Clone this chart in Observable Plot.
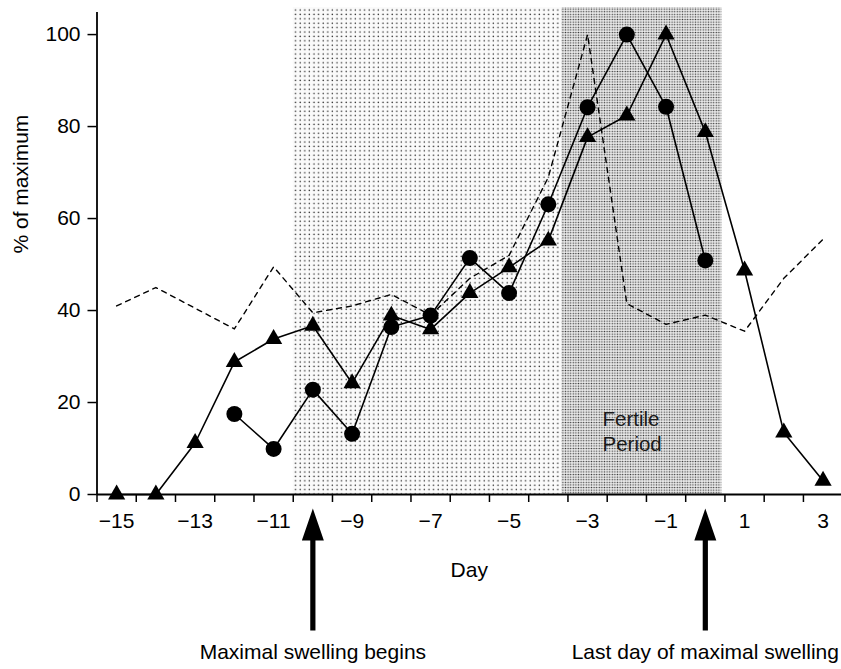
<!DOCTYPE html>
<html>
<head>
<meta charset="utf-8">
<script src="https://cdn.jsdelivr.net/npm/d3@7"></script>
<script src="https://cdn.jsdelivr.net/npm/@observablehq/plot@0.6"></script>
<style>
  html, body { margin: 0; padding: 0; background: #fff; }
  #chart svg { display: block; }
</style>
</head>
<body>
<div id="chart"></div>
<script>
// ---- data ----
const days = [-15, -14, -13, -12, -11, -10, -9, -8, -7, -6, -5, -4, -3, -2, -1, 0, 1, 2, 3];
const triangleValues = [0, 0, 11.2, 28.8, 33.8, 36.7, 24.2, 38.9, 35.9, 43.8, 49.4, 55.2, 77.7, 82.4, 100, 78.8, 48.7, 13.5, 3.0];
const circleDays = [-12, -11, -10, -9, -8, -7, -6, -5, -4, -3, -2, -1, 0];
const circleValues = [17.5, 9.9, 22.8, 13.2, 36.4, 38.9, 51.4, 43.8, 63.1, 84.2, 100, 84.3, 50.9];
const dashedValues = [41, 45, 40.5, 36, 49.5, 39.5, 41, 43.5, 39, 47, 52, 69, 100, 41.5, 37, 39, 35.5, 47, 55.5];

const shadeStart = [-10.5, -3.65];
const shadeEnd = [-3.65, 0.42];
const shadeKind = ["light", "dense"];

const xTickLabels = [-15, -13, -11, -9, -7, -5, -3, -1, 1, 3];
const xTickMarks = d3.range(-15.5, 3, 1);
const yTicks = [0, 20, 40, 60, 80, 100];

const arrowDays = [-10, 0];
const arrowLabels = ["Maximal swelling begins", "Last day of maximal swelling"];

const fertileLabel = {x: -2.62, y: 14, text: "Fertile\nPeriod"};

// ---- tables ----
const triangles = days.map((d, i) => ({day: d, value: triangleValues[i]}));
const circles = circleDays.map((d, i) => ({day: d, value: circleValues[i]}));
const dashed = days.map((d, i) => ({day: d, value: dashedValues[i]}));
const shades = shadeStart.map((s, i) => ({start: s, end: shadeEnd[i], kind: shadeKind[i]}));
const arrows = arrowDays.map((d, i) => ({day: d, label: arrowLabels[i]}));

// custom arrow symbol: tip below the x axis, pointing up
const arrowSymbol = {
  draw(ctx) {
    ctx.moveTo(0, 14);
    ctx.lineTo(11, 46);
    ctx.lineTo(2.6, 46);
    ctx.lineTo(2.6, 136);
    ctx.lineTo(-2.6, 136);
    ctx.lineTo(-2.6, 46);
    ctx.lineTo(-11, 46);
    ctx.closePath();
  }
};

const font = "'Liberation Sans', Arial, Helvetica, sans-serif";

const chart = Plot.plot({
  width: 841,
  height: 669,
  marginLeft: 96.5,
  marginRight: 0,
  marginTop: 12,
  marginBottom: 175,
  style: {fontFamily: font, fontSize: "21px", color: "#000", background: "#fff"},
  x: {domain: [-15.5, 3.47]},
  y: {domain: [0, 104.8]},
  marks: [
    Plot.rect(shades, {
      x1: "start", x2: "end", insetTop: -5,
      fill: d => d.kind === "light" ? "url(#lightDots)" : "url(#denseDots)"
    }),
    Plot.axisY({ticks: yTicks, tickSize: 9, tickPadding: 7.5, label: null, fontSize: 21, stroke: "#000", strokeWidth: 1.5}),
    Plot.axisX({ticks: xTickMarks, tickSize: 8, tickFormat: () => "", label: null, stroke: "#000", strokeWidth: 1.5}),
    Plot.axisX({ticks: xTickLabels, tickSize: 0, tickPadding: 19, label: null, fontSize: 21}),
    Plot.ruleX([-15.5], {stroke: "#000", strokeWidth: 1.8}),
    Plot.ruleY([0], {stroke: "#000", strokeWidth: 1.8}),
    Plot.line(dashed, {x: "day", y: "value", stroke: "#000", strokeWidth: 1.4, strokeDasharray: "5,5"}),
    Plot.line(triangles, {x: "day", y: "value", stroke: "#000", strokeWidth: 1.6}),
    Plot.line(circles, {x: "day", y: "value", stroke: "#000", strokeWidth: 1.6}),
    Plot.dot(triangles, {x: "day", y: "value", symbol: "triangle", r: 6.4, fill: "#000", stroke: "none"}),
    Plot.dot(circles, {x: "day", y: "value", symbol: "circle", r: 8, fill: "#000", stroke: "none"}),
    Plot.text([fertileLabel], {x: "x", y: "y", text: "text", textAnchor: "start", lineHeight: 1.24, fontSize: 20.5, fill: "#1a1a1a"}),
    Plot.dot(arrows, {x: "day", frameAnchor: "bottom", symbol: arrowSymbol, fill: "#000", stroke: "none"}),
    Plot.text(arrows, {x: "day", text: "label", frameAnchor: "bottom", dy: 164, fontSize: 21, fill: "#000"}),
    Plot.text(["Day"], {frameAnchor: "bottom", dy: 82, fontSize: 21, fill: "#000"}),
    Plot.text(["% of maximum"], {frameAnchor: "left", dx: -76, rotate: -90, fontSize: 21, fill: "#000"})
  ]
});

// patterns for the shaded periods
const defs = d3.select(chart).insert("defs", ":first-child");
const light = defs.append("pattern").attr("id", "lightDots").attr("patternUnits", "userSpaceOnUse").attr("width", 4.6).attr("height", 4.4);
light.append("rect").attr("width", 4.6).attr("height", 4.4).attr("fill", "#fafafa");
light.append("circle").attr("cx", 1.2).attr("cy", 1.2).attr("r", 0.75).attr("fill", "#2a2a2a");
const dense = defs.append("pattern").attr("id", "denseDots").attr("patternUnits", "userSpaceOnUse").attr("width", 2.6).attr("height", 2.6);
dense.append("rect").attr("width", 2.6).attr("height", 2.6).attr("fill", "#ebebeb");
dense.append("circle").attr("cx", 1.3).attr("cy", 1.3).attr("r", 0.75).attr("fill", "#3a3a3a");

document.getElementById("chart").append(chart);
</script>
</body>
</html>
